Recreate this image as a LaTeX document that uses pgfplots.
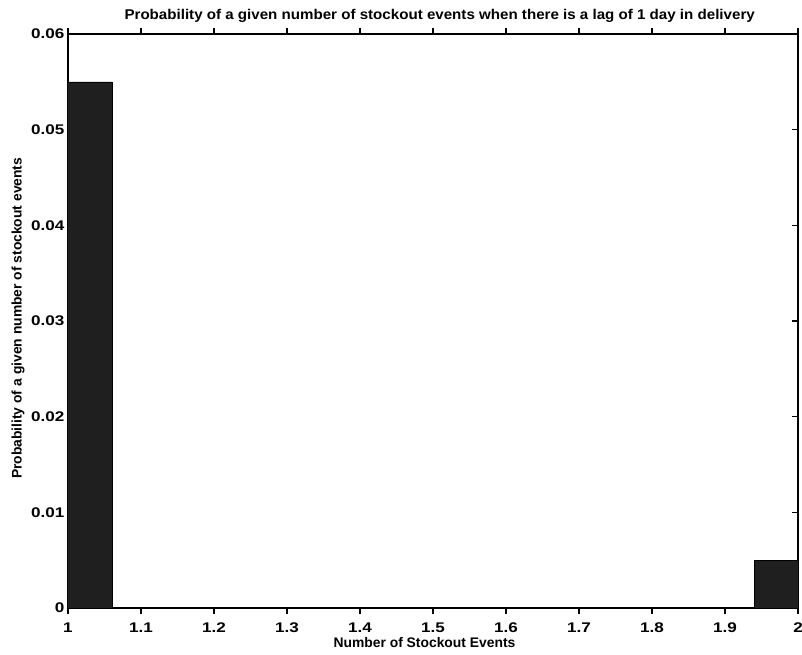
\documentclass[border=0pt]{standalone}
\usepackage{fontspec}
\setmainfont{Liberation Sans}
\newfontfamily\tickfont[FakeStretch=1.22]{Liberation Sans}
\newfontfamily\titlefont[FakeStretch=1.07]{Liberation Sans}
\usepackage{pgfplots}
\pgfplotsset{compat=1.18}

\begin{document}
\begin{tikzpicture}
\useasboundingbox (-51pt,-34.5pt) rectangle (550.5pt,456pt);
\begin{axis}[
    at={(0,0)}, anchor=south west,
    scale only axis,
    width=547.5pt, height=430.5pt,
    xmin=1, xmax=2, ymin=0, ymax=0.06,
    xtick={1,1.1,1.2,1.3,1.4,1.5,1.6,1.7,1.8,1.9,2},
    ytick={0,0.01,0.02,0.03,0.04,0.05,0.06},
    scaled y ticks=false,
    yticklabel style={/pgf/number format/fixed, /pgf/number format/precision=2,
        anchor=east, inner sep=0pt, xshift=-2.5pt},
    xticklabel style={anchor=base, inner sep=0pt, yshift=-13.5pt},
    /pgf/number format/assume math mode=true,
    tick align=inside,
    major tick length=4.5pt,
    tick style={black, line width=0.9pt},
    axis line style={line width=1.1pt},
    ticklabel style={font=\tickfont\bfseries\fontsize{10.5}{12}\selectfont},
    label style={font=\bfseries\fontsize{10.4}{12}\selectfont},
    title style={font=\titlefont\bfseries\fontsize{10.6}{12}\selectfont,
        at={(axis description cs:0.5,1)}, anchor=base, inner sep=0pt,
        yshift=4.5pt, xshift=5pt},
    title={Probability of a given number of stockout events when there is a lag of 1 day in delivery},
    xlabel={Number of Stockout Events},
    ylabel={Probability of a given number of stockout events},
    xlabel style={at={(axis description cs:0.5,0)}, anchor=base, inner sep=0pt,
        yshift=-29.25pt, xshift=-6.4pt},
    ylabel style={at={(axis description cs:0,0.5)}, anchor=north, inner sep=0pt,
        yshift=42.5pt, xshift=2pt},
    ybar, bar width=0.12, bar shift=0pt,
]
\addplot[fill=black!88, draw=black] coordinates {(1,0.055) (2,0.005)};
\end{axis}
\end{tikzpicture}
\end{document}
